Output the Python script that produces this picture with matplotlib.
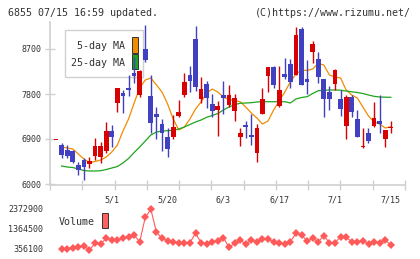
import matplotlib
matplotlib.use("Agg")
import matplotlib.pyplot as plt
from matplotlib.patches import Rectangle
import numpy as np

# daily candles (index 0 = oldest)
opens = [6880, 6780, 6687, 6667, 6380, 6480, 6400, 6553, 6547, 6667,
         7067, 7627, 7827, 7913, 8213, 7780, 8693, 7760, 7400, 7200,
         6933, 6947, 7367, 7780, 8180, 8900, 7693, 8000, 7600, 7480,
         7780, 7580, 7467, 6947, 7180, 6980, 6627, 7400, 8167, 8333,
         7567, 8200, 8400, 8180, 9093, 8093, 8647, 8493, 8093, 7847,
         7993, 7700, 7167, 7733, 7300, 6747, 7020, 7167, 7260, 6893, 7113]
highs = [6880, 6820, 6780, 6687, 6447, 6513, 6533, 6920, 6847, 7247,
         7180, 7930, 7880, 8180, 8547, 8280, 9180, 8180, 7533, 7293,
         7113, 7380, 7680, 8213, 8360, 9160, 8133, 8060, 7800, 7667,
         8060, 7980, 7800, 7113, 7267, 7400, 7200, 7913, 8333, 8367,
         8367, 8513, 8493, 9147, 9147, 8480, 8867, 8647, 8093, 7960,
         8293, 7880, 7780, 7780, 7480, 7113, 7127, 7647, 7780, 7080, 7267]
lows = [6880, 6520, 6520, 6420, 6180, 6080, 6320, 6480, 6420, 6613,
        6733, 7447, 7427, 7760, 8013, 7733, 8447, 7013, 6893, 6667,
        6533, 6893, 7347, 7747, 7847, 7867, 7613, 7513, 7347, 6960,
        7400, 7533, 7267, 6760, 6913, 6780, 6447, 7400, 7847, 7913,
        7547, 8093, 7913, 8180, 7980, 7800, 8427, 8013, 7347, 7480,
        7880, 7367, 6900, 7333, 6947, 6713, 6813, 7147, 7020, 6733, 7027]
closes = [6880, 6580, 6553, 6447, 6280, 6333, 6467, 6753, 6760, 7067,
          6933, 7913, 7760, 7873, 8160, 8267, 8480, 7213, 7333, 7013,
          6693, 7147, 7433, 8047, 8067, 7947, 7893, 7713, 7467, 7560,
          7713, 7780, 7713, 7013, 7147, 6933, 7113, 7693, 8333, 7980,
          7880, 8147, 8047, 8980, 7980, 8047, 8800, 8147, 7700, 7700,
          8280, 7500, 7733, 7447, 6947, 6747, 6853, 7313, 7193, 7080, 7113]

ma5 = [np.nan, 6740, 6720, 6700, 6600, 6500, 6430, 6450, 6480, 6540,
       6640, 6780, 7060, 7300, 7620, 7920, 8080, 8120, 7980, 7840,
       7600, 7300, 7080, 7140, 7300, 7500, 7640, 7820, 7900, 7840,
       7740, 7690, 7670, 7646, 7540, 7420, 7320, 7200, 7260, 7480,
       7660, 7840, 8040, 8200, 8280, 8270, 8300, 8410, 8380, 8180,
       8140, 8120, 7880, 7780, 7720, 7540, 7360, 7240, 7200, 7120, 7146]
ma25 = [np.nan, 6360, 6340, 6330, 6300, 6270, 6260, 6260, 6266, 6290,
        6320, 6350, 6420, 6510, 6630, 6740, 6860, 6980, 7040, 7060,
        7066, 7074, 7100, 7140, 7190, 7240, 7280, 7334, 7370, 7410,
        7480, 7540, 7586, 7614, 7620, 7626, 7640, 7646, 7646, 7646,
        7646, 7646, 7620, 7700, 7730, 7746, 7810, 7866, 7874, 7880,
        7880, 7876, 7860, 7844, 7830, 7810, 7780, 7754, 7740, 7736, 7734]

volume = [np.nan, 356100, 371000, 422000, 473000, 507000, 306000, 642000, 608000, 895000,
          810000, 810000, 895000, 976000, 1047000, 726000, 1954000, 2358000, 1198000, 895000,
          775000, 726000, 676000, 676000, 676000, 1148000, 675000, 625000, 692000, 776000,
          927000, 440000, 642000, 810000, 608000, 810000, 726000, 844000, 844000, 726000,
          675000, 608000, 726000, 1146000, 1062000, 760000, 894000, 726000, 1028000, 675000,
          675000, 978000, 944000, 726000, 726000, 776000, 608000, 726000, 675000, 810000, 558000]

date_labels = ['5/1', '5/20', '6/3', '6/17', '7/1', '7/15']
date_pos = [10, 20, 30, 40, 50, 60]
price_ticks = [6000, 6900, 7800, 8700]
vol_ticks = [356100, 1364500, 2372900]

W, H = 420, 259
RED, BLUE = '#d80000', '#4040c0'
GRAY = '#d0d0d0'
TXT = '#333333'
plt.rcParams['font.family'] = ['DejaVu Sans Mono']


def fx(x):
    return x / W


def fy(y):
    return 1 - y / H


fig = plt.figure(figsize=(W / 100, H / 100), dpi=100)

# --- price panel ---
ax = fig.add_axes([fx(50), fy(185), fx(405) - fx(50), fy(22) - fy(185)])
ax.set_xlim(-1.075, 62.54)
ax.set_ylim(5980, 9240)

o = np.array(opens, float)
c = np.array(closes, float)
idx = np.arange(len(o))
up = c >= o
cols = np.where(up, RED, BLUE)

ax.vlines(idx, lows, highs, colors=cols, linewidth=1.0, zorder=3)
ax.bar(idx, np.maximum(np.abs(c - o), 20), bottom=np.minimum(o, c), width=0.85,
       color=cols, linewidth=0, zorder=4)

ax.plot(idx, ma5, color='#f08c00', linewidth=0.9, zorder=2)
ax.plot(idx, ma25, color='#1ea51e', linewidth=0.9, zorder=2)

for s in ['top', 'right']:
    ax.spines[s].set_visible(False)
for s in ['left', 'bottom']:
    ax.spines[s].set_color(GRAY)
    ax.spines[s].set_linewidth(1.2)

ax.set_yticks(price_ticks)
ax.tick_params(axis='y', direction='inout', length=6.5, width=1.0, color=GRAY,
               labelsize=6, labelcolor=TXT, pad=3)
grid_x = [(-6 + k * 355 / 11) / 5.58 for k in range(12)]
ax.set_xticks(grid_x)
ax.set_xticks(date_pos, labels=date_labels, minor=True)
ax.tick_params(axis='x', which='major', direction='inout', length=6.5, width=1.0,
               color=GRAY, labelbottom=False)
ax.tick_params(axis='x', which='minor', length=0, labelsize=6, labelcolor=TXT, pad=7.5)
ax.patch.set_alpha(0)

# legend box
ax.add_patch(Rectangle((fx(65), fy(77)), fx(143) - fx(65), fy(30) - fy(77),
                       transform=fig.transFigure, facecolor='white', edgecolor=GRAY,
                       linewidth=1.0, zorder=1, clip_on=False))
fig.text(fx(125), fy(46), '5-day MA', ha='right', va='center', fontsize=7.2, color=TXT)
fig.text(fx(125), fy(62.5), '25-day MA', ha='right', va='center', fontsize=7.2, color=TXT)
ax.add_patch(Rectangle((fx(132), fy(52.5)), fx(5.5), fy(37) - fy(52.5), transform=fig.transFigure,
                       facecolor='#f08c00', edgecolor='#333333', linewidth=0.7, zorder=1,
                       clip_on=False))
ax.add_patch(Rectangle((fx(132), fy(69)), fx(5.5), fy(54) - fy(69), transform=fig.transFigure,
                       facecolor='#1ea51e', edgecolor='#333333', linewidth=0.7, zorder=1,
                       clip_on=False))

# --- volume panel ---
vax = fig.add_axes([fx(50), fy(255), fx(405) - fx(50), fy(205) - fy(255)])
vax.set_xlim(-1.075, 62.54)
vax.set_ylim(53580, 2574580)
vax.plot(idx, volume, color='#ff5a5a', linewidth=0.8, marker='D', markersize=4.2,
         markeredgewidth=0)
for s in vax.spines.values():
    s.set_visible(False)
vax.set_xticks([])
vax.set_yticks(vol_ticks, labels=[str(v) for v in vol_ticks])
vax.tick_params(axis='y', length=0, labelsize=6, labelcolor=TXT, pad=5)
vax.patch.set_alpha(0)

fig.text(fx(59), fy(222), 'Volume', ha='left', va='center', fontsize=7.2, color=TXT)
fig.add_artist(Rectangle((fx(102), fy(228)), fx(6), fy(213) - fy(228), transform=fig.transFigure,
                         facecolor='#ff6060', edgecolor='#333333', linewidth=0.7))

# header
fig.text(fx(8), fy(12.5), '6855 07/15 16:59 updated.', ha='left', va='center',
         fontsize=7.2, color=TXT)
fig.text(fx(411), fy(12.5), '(C)https://www.rizumu.net/', ha='right', va='center',
         fontsize=7.2, color=TXT)

fig.savefig('out.png', dpi=100)
